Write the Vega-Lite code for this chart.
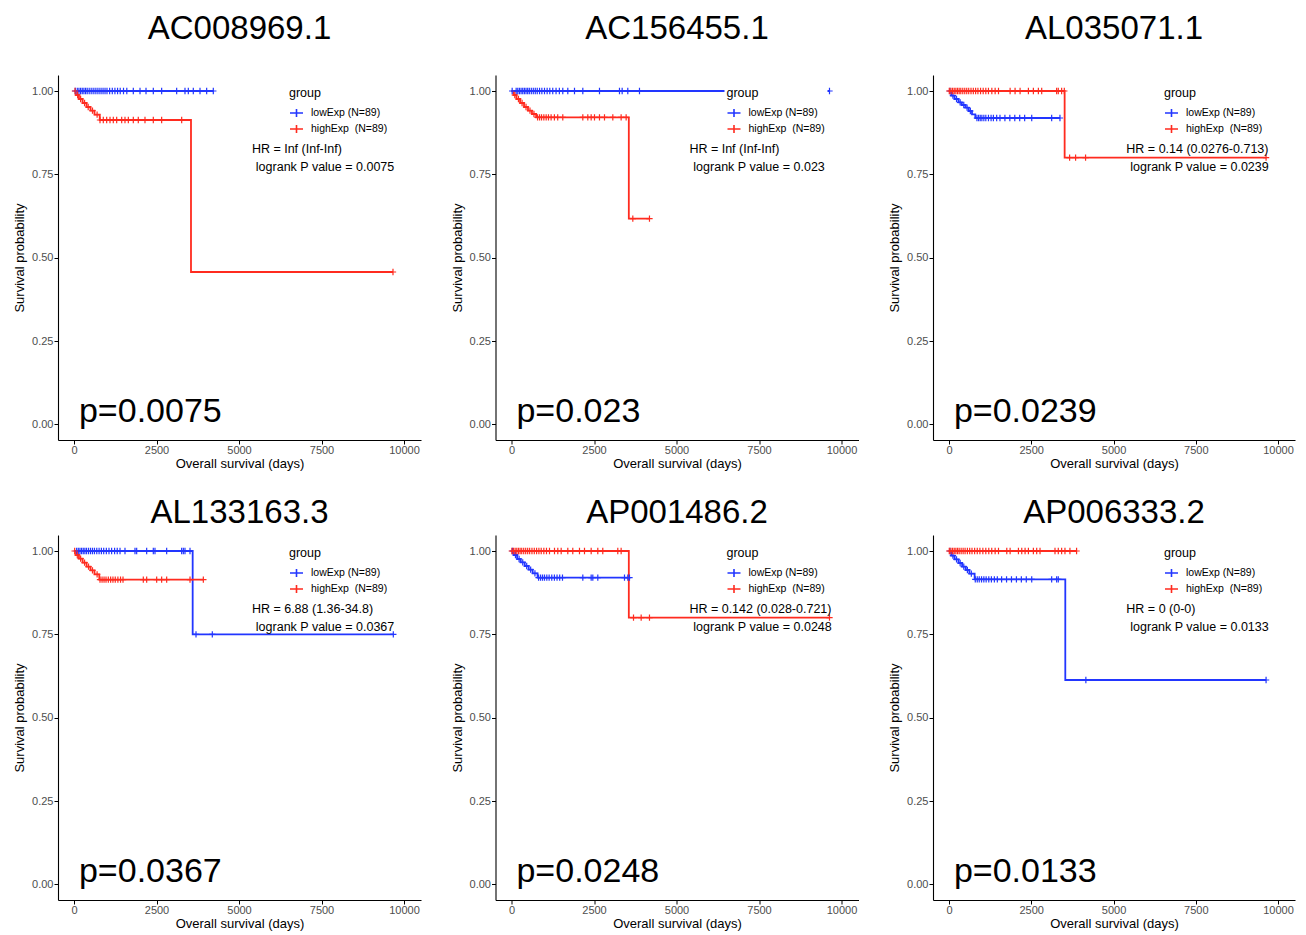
{
"$schema": "https://vega.github.io/schema/vega-lite/v6.json",
"padding": {"left": 13, "top": 13, "right": 5, "bottom": 2},
"background": "white",
"config": {
  "view": {"stroke": null},
  "title": {"fontSize": 33, "font": "Liberation Sans", "fontWeight": "normal", "color": "black", "anchor": "middle", "frame": "group", "baseline": "alphabetic"},
  "axis": {"grid": false, "domainColor": "black", "domainWidth": 1.1, "tickColor": "black", "tickSize": 4, "tickWidth": 1, "labelFont": "Liberation Sans", "labelFontSize": 11, "labelColor": "#4d4d4d", "titleFont": "Liberation Sans", "titleFontSize": 13, "titleFontWeight": "normal", "titleColor": "black", "labelPadding": 1},
  "axisX": {"titlePadding": 2, "labelPadding": 0},
  "axisY": {"titlePadding": 5},
  "text": {"font": "Liberation Sans", "color": "black"},
  "legend": {"padding": 2, "fillColor": "white", "titleFont": "Liberation Sans", "titleFontSize": 12.5, "titleFontWeight": "normal", "titleColor": "black", "labelFont": "Liberation Sans", "labelFontSize": 10.5, "labelColor": "black", "symbolType": "M-1,0H1M0,-0.6V0.6", "symbolSize": 169, "symbolStrokeWidth": 1.6, "rowPadding": 1, "titlePadding": 6, "labelOffset": 7, "labelLimit": 300}
},
"datasets": {
"notes": [
{"p":1,"hr":"HR = Inf (Inf-Inf)","lr":"logrank P value = 0.0075","pv":"p=0.0075"},
{"p":2,"hr":"HR = Inf (Inf-Inf)","lr":"logrank P value = 0.023","pv":"p=0.023"},
{"p":3,"hr":"HR = 0.14 (0.0276-0.713)","lr":"logrank P value = 0.0239","pv":"p=0.0239"},
{"p":4,"hr":"HR = 6.88 (1.36-34.8)","lr":"logrank P value = 0.0367","pv":"p=0.0367"},
{"p":5,"hr":"HR = 0.142 (0.028-0.721)","lr":"logrank P value = 0.0248","pv":"p=0.0248"},
{"p":6,"hr":"HR = 0 (0-0)","lr":"logrank P value = 0.0133","pv":"p=0.0133"}
],
"km": [
{"p":1,"g":"lowExp","k":"s","t":0,"s":1},{"p":1,"g":"lowExp","k":"s","t":4221,"s":1},
{"p":1,"g":"lowExp","k":"c","t":40,"s":1},{"p":1,"g":"lowExp","k":"c","t":100,"s":1},{"p":1,"g":"lowExp","k":"c","t":150,"s":1},{"p":1,"g":"lowExp","k":"c","t":200,"s":1},{"p":1,"g":"lowExp","k":"c","t":250,"s":1},{"p":1,"g":"lowExp","k":"c","t":300,"s":1},{"p":1,"g":"lowExp","k":"c","t":350,"s":1},{"p":1,"g":"lowExp","k":"c","t":400,"s":1},{"p":1,"g":"lowExp","k":"c","t":460,"s":1},{"p":1,"g":"lowExp","k":"c","t":520,"s":1},{"p":1,"g":"lowExp","k":"c","t":580,"s":1},{"p":1,"g":"lowExp","k":"c","t":640,"s":1},{"p":1,"g":"lowExp","k":"c","t":700,"s":1},{"p":1,"g":"lowExp","k":"c","t":760,"s":1},{"p":1,"g":"lowExp","k":"c","t":820,"s":1},{"p":1,"g":"lowExp","k":"c","t":880,"s":1},{"p":1,"g":"lowExp","k":"c","t":940,"s":1},{"p":1,"g":"lowExp","k":"c","t":1000,"s":1},{"p":1,"g":"lowExp","k":"c","t":1080,"s":1},{"p":1,"g":"lowExp","k":"c","t":1160,"s":1},{"p":1,"g":"lowExp","k":"c","t":1240,"s":1},{"p":1,"g":"lowExp","k":"c","t":1320,"s":1},{"p":1,"g":"lowExp","k":"c","t":1400,"s":1},{"p":1,"g":"lowExp","k":"c","t":1500,"s":1},{"p":1,"g":"lowExp","k":"c","t":1600,"s":1},{"p":1,"g":"lowExp","k":"c","t":1797,"s":1},{"p":1,"g":"lowExp","k":"c","t":2000,"s":1},{"p":1,"g":"lowExp","k":"c","t":2182,"s":1},{"p":1,"g":"lowExp","k":"c","t":2403,"s":1},{"p":1,"g":"lowExp","k":"c","t":2656,"s":1},{"p":1,"g":"lowExp","k":"c","t":3111,"s":1},{"p":1,"g":"lowExp","k":"c","t":3363,"s":1},{"p":1,"g":"lowExp","k":"c","t":3464,"s":1},{"p":1,"g":"lowExp","k":"c","t":3615,"s":1},{"p":1,"g":"lowExp","k":"c","t":3818,"s":1},{"p":1,"g":"lowExp","k":"c","t":4020,"s":1},{"p":1,"g":"lowExp","k":"c","t":4221,"s":1},
{"p":1,"g":"highExp","k":"s","t":0,"s":1},{"p":1,"g":"highExp","k":"s","t":60,"s":0.988},{"p":1,"g":"highExp","k":"s","t":150,"s":0.976},{"p":1,"g":"highExp","k":"s","t":260,"s":0.964},{"p":1,"g":"highExp","k":"s","t":380,"s":0.952},{"p":1,"g":"highExp","k":"s","t":500,"s":0.941},{"p":1,"g":"highExp","k":"s","t":620,"s":0.929},{"p":1,"g":"highExp","k":"s","t":780,"s":0.913},{"p":1,"g":"highExp","k":"s","t":3545,"s":0.457},{"p":1,"g":"highExp","k":"s","t":9666,"s":0.457},
{"p":1,"g":"highExp","k":"c","t":30,"s":1},{"p":1,"g":"highExp","k":"c","t":110,"s":0.988},{"p":1,"g":"highExp","k":"c","t":200,"s":0.976},{"p":1,"g":"highExp","k":"c","t":320,"s":0.964},{"p":1,"g":"highExp","k":"c","t":430,"s":0.952},{"p":1,"g":"highExp","k":"c","t":560,"s":0.941},{"p":1,"g":"highExp","k":"c","t":700,"s":0.929},{"p":1,"g":"highExp","k":"c","t":788,"s":0.913},{"p":1,"g":"highExp","k":"c","t":888,"s":0.913},{"p":1,"g":"highExp","k":"c","t":990,"s":0.913},{"p":1,"g":"highExp","k":"c","t":1091,"s":0.913},{"p":1,"g":"highExp","k":"c","t":1191,"s":0.913},{"p":1,"g":"highExp","k":"c","t":1293,"s":0.913},{"p":1,"g":"highExp","k":"c","t":1445,"s":0.913},{"p":1,"g":"highExp","k":"c","t":1545,"s":0.913},{"p":1,"g":"highExp","k":"c","t":1646,"s":0.913},{"p":1,"g":"highExp","k":"c","t":1797,"s":0.913},{"p":1,"g":"highExp","k":"c","t":1948,"s":0.913},{"p":1,"g":"highExp","k":"c","t":2151,"s":0.913},{"p":1,"g":"highExp","k":"c","t":2403,"s":0.913},{"p":1,"g":"highExp","k":"c","t":2656,"s":0.913},{"p":1,"g":"highExp","k":"c","t":3263,"s":0.913},{"p":1,"g":"highExp","k":"c","t":9666,"s":0.457},

{"p":2,"g":"lowExp","k":"s","t":0,"s":1},{"p":2,"g":"lowExp","k":"s","t":9636,"s":1},
{"p":2,"g":"lowExp","k":"c","t":20,"s":1},{"p":2,"g":"lowExp","k":"c","t":141,"s":1},{"p":2,"g":"lowExp","k":"c","t":190,"s":1},{"p":2,"g":"lowExp","k":"c","t":240,"s":1},{"p":2,"g":"lowExp","k":"c","t":290,"s":1},{"p":2,"g":"lowExp","k":"c","t":340,"s":1},{"p":2,"g":"lowExp","k":"c","t":390,"s":1},{"p":2,"g":"lowExp","k":"c","t":440,"s":1},{"p":2,"g":"lowExp","k":"c","t":490,"s":1},{"p":2,"g":"lowExp","k":"c","t":540,"s":1},{"p":2,"g":"lowExp","k":"c","t":600,"s":1},{"p":2,"g":"lowExp","k":"c","t":660,"s":1},{"p":2,"g":"lowExp","k":"c","t":720,"s":1},{"p":2,"g":"lowExp","k":"c","t":780,"s":1},{"p":2,"g":"lowExp","k":"c","t":850,"s":1},{"p":2,"g":"lowExp","k":"c","t":920,"s":1},{"p":2,"g":"lowExp","k":"c","t":1000,"s":1},{"p":2,"g":"lowExp","k":"c","t":1080,"s":1},{"p":2,"g":"lowExp","k":"c","t":1160,"s":1},{"p":2,"g":"lowExp","k":"c","t":1250,"s":1},{"p":2,"g":"lowExp","k":"c","t":1350,"s":1},{"p":2,"g":"lowExp","k":"c","t":1450,"s":1},{"p":2,"g":"lowExp","k":"c","t":1554,"s":1},{"p":2,"g":"lowExp","k":"c","t":1706,"s":1},{"p":2,"g":"lowExp","k":"c","t":1909,"s":1},{"p":2,"g":"lowExp","k":"c","t":2161,"s":1},{"p":2,"g":"lowExp","k":"c","t":2666,"s":1},{"p":2,"g":"lowExp","k":"c","t":3272,"s":1},{"p":2,"g":"lowExp","k":"c","t":3353,"s":1},{"p":2,"g":"lowExp","k":"c","t":3524,"s":1},{"p":2,"g":"lowExp","k":"c","t":3878,"s":1},{"p":2,"g":"lowExp","k":"c","t":9636,"s":1},
{"p":2,"g":"highExp","k":"s","t":0,"s":1},{"p":2,"g":"highExp","k":"s","t":60,"s":0.988},{"p":2,"g":"highExp","k":"s","t":150,"s":0.976},{"p":2,"g":"highExp","k":"s","t":260,"s":0.964},{"p":2,"g":"highExp","k":"s","t":380,"s":0.952},{"p":2,"g":"highExp","k":"s","t":500,"s":0.941},{"p":2,"g":"highExp","k":"s","t":620,"s":0.931},{"p":2,"g":"highExp","k":"s","t":747,"s":0.921},{"p":2,"g":"highExp","k":"s","t":3555,"s":0.617},{"p":2,"g":"highExp","k":"s","t":4181,"s":0.617},
{"p":2,"g":"highExp","k":"c","t":100,"s":0.988},{"p":2,"g":"highExp","k":"c","t":210,"s":0.976},{"p":2,"g":"highExp","k":"c","t":320,"s":0.964},{"p":2,"g":"highExp","k":"c","t":440,"s":0.952},{"p":2,"g":"highExp","k":"c","t":560,"s":0.941},{"p":2,"g":"highExp","k":"c","t":680,"s":0.931},{"p":2,"g":"highExp","k":"c","t":790,"s":0.921},{"p":2,"g":"highExp","k":"c","t":850,"s":0.921},{"p":2,"g":"highExp","k":"c","t":910,"s":0.921},{"p":2,"g":"highExp","k":"c","t":980,"s":0.921},{"p":2,"g":"highExp","k":"c","t":1050,"s":0.921},{"p":2,"g":"highExp","k":"c","t":1120,"s":0.921},{"p":2,"g":"highExp","k":"c","t":1200,"s":0.921},{"p":2,"g":"highExp","k":"c","t":1300,"s":0.921},{"p":2,"g":"highExp","k":"c","t":1400,"s":0.921},{"p":2,"g":"highExp","k":"c","t":1554,"s":0.921},{"p":2,"g":"highExp","k":"c","t":2161,"s":0.921},{"p":2,"g":"highExp","k":"c","t":2312,"s":0.921},{"p":2,"g":"highExp","k":"c","t":2414,"s":0.921},{"p":2,"g":"highExp","k":"c","t":2515,"s":0.921},{"p":2,"g":"highExp","k":"c","t":2666,"s":0.921},{"p":2,"g":"highExp","k":"c","t":2818,"s":0.921},{"p":2,"g":"highExp","k":"c","t":3070,"s":0.921},{"p":2,"g":"highExp","k":"c","t":3322,"s":0.921},{"p":2,"g":"highExp","k":"c","t":3474,"s":0.921},{"p":2,"g":"highExp","k":"c","t":3676,"s":0.617},{"p":2,"g":"highExp","k":"c","t":4181,"s":0.617},

{"p":3,"g":"lowExp","k":"s","t":0,"s":1},{"p":3,"g":"lowExp","k":"s","t":70,"s":0.986},{"p":3,"g":"lowExp","k":"s","t":170,"s":0.976},{"p":3,"g":"lowExp","k":"s","t":290,"s":0.966},{"p":3,"g":"lowExp","k":"s","t":390,"s":0.958},{"p":3,"g":"lowExp","k":"s","t":500,"s":0.95},{"p":3,"g":"lowExp","k":"s","t":600,"s":0.94},{"p":3,"g":"lowExp","k":"s","t":700,"s":0.93},{"p":3,"g":"lowExp","k":"s","t":800,"s":0.919},{"p":3,"g":"lowExp","k":"s","t":3373,"s":0.919},
{"p":3,"g":"lowExp","k":"c","t":30,"s":1},{"p":3,"g":"lowExp","k":"c","t":120,"s":0.986},{"p":3,"g":"lowExp","k":"c","t":230,"s":0.976},{"p":3,"g":"lowExp","k":"c","t":340,"s":0.966},{"p":3,"g":"lowExp","k":"c","t":450,"s":0.958},{"p":3,"g":"lowExp","k":"c","t":550,"s":0.95},{"p":3,"g":"lowExp","k":"c","t":650,"s":0.94},{"p":3,"g":"lowExp","k":"c","t":850,"s":0.919},{"p":3,"g":"lowExp","k":"c","t":900,"s":0.919},{"p":3,"g":"lowExp","k":"c","t":950,"s":0.919},{"p":3,"g":"lowExp","k":"c","t":1000,"s":0.919},{"p":3,"g":"lowExp","k":"c","t":1060,"s":0.919},{"p":3,"g":"lowExp","k":"c","t":1120,"s":0.919},{"p":3,"g":"lowExp","k":"c","t":1200,"s":0.919},{"p":3,"g":"lowExp","k":"c","t":1280,"s":0.919},{"p":3,"g":"lowExp","k":"c","t":1350,"s":0.919},{"p":3,"g":"lowExp","k":"c","t":1450,"s":0.919},{"p":3,"g":"lowExp","k":"c","t":1550,"s":0.919},{"p":3,"g":"lowExp","k":"c","t":1700,"s":0.919},{"p":3,"g":"lowExp","k":"c","t":1850,"s":0.919},{"p":3,"g":"lowExp","k":"c","t":2000,"s":0.919},{"p":3,"g":"lowExp","k":"c","t":2150,"s":0.919},{"p":3,"g":"lowExp","k":"c","t":2300,"s":0.919},{"p":3,"g":"lowExp","k":"c","t":2515,"s":0.919},{"p":3,"g":"lowExp","k":"c","t":3121,"s":0.919},{"p":3,"g":"lowExp","k":"c","t":3373,"s":0.919},
{"p":3,"g":"highExp","k":"s","t":0,"s":1},{"p":3,"g":"highExp","k":"s","t":3515,"s":0.8},{"p":3,"g":"highExp","k":"s","t":9636,"s":0.8},
{"p":3,"g":"highExp","k":"c","t":10,"s":1},{"p":3,"g":"highExp","k":"c","t":60,"s":1},{"p":3,"g":"highExp","k":"c","t":110,"s":1},{"p":3,"g":"highExp","k":"c","t":160,"s":1},{"p":3,"g":"highExp","k":"c","t":210,"s":1},{"p":3,"g":"highExp","k":"c","t":260,"s":1},{"p":3,"g":"highExp","k":"c","t":310,"s":1},{"p":3,"g":"highExp","k":"c","t":360,"s":1},{"p":3,"g":"highExp","k":"c","t":420,"s":1},{"p":3,"g":"highExp","k":"c","t":480,"s":1},{"p":3,"g":"highExp","k":"c","t":540,"s":1},{"p":3,"g":"highExp","k":"c","t":600,"s":1},{"p":3,"g":"highExp","k":"c","t":670,"s":1},{"p":3,"g":"highExp","k":"c","t":740,"s":1},{"p":3,"g":"highExp","k":"c","t":810,"s":1},{"p":3,"g":"highExp","k":"c","t":880,"s":1},{"p":3,"g":"highExp","k":"c","t":960,"s":1},{"p":3,"g":"highExp","k":"c","t":1040,"s":1},{"p":3,"g":"highExp","k":"c","t":1120,"s":1},{"p":3,"g":"highExp","k":"c","t":1200,"s":1},{"p":3,"g":"highExp","k":"c","t":1303,"s":1},{"p":3,"g":"highExp","k":"c","t":1403,"s":1},{"p":3,"g":"highExp","k":"c","t":1505,"s":1},{"p":3,"g":"highExp","k":"c","t":1858,"s":1},{"p":3,"g":"highExp","k":"c","t":2009,"s":1},{"p":3,"g":"highExp","k":"c","t":2161,"s":1},{"p":3,"g":"highExp","k":"c","t":2414,"s":1},{"p":3,"g":"highExp","k":"c","t":2565,"s":1},{"p":3,"g":"highExp","k":"c","t":2717,"s":1},{"p":3,"g":"highExp","k":"c","t":2818,"s":1},{"p":3,"g":"highExp","k":"c","t":3272,"s":1},{"p":3,"g":"highExp","k":"c","t":3322,"s":1},{"p":3,"g":"highExp","k":"c","t":3424,"s":1},{"p":3,"g":"highExp","k":"c","t":3505,"s":1},{"p":3,"g":"highExp","k":"c","t":3666,"s":0.8},{"p":3,"g":"highExp","k":"c","t":3848,"s":0.8},{"p":3,"g":"highExp","k":"c","t":4151,"s":0.8},{"p":3,"g":"highExp","k":"c","t":9636,"s":0.8},

{"p":4,"g":"lowExp","k":"s","t":0,"s":1},{"p":4,"g":"lowExp","k":"s","t":3596,"s":0.75},{"p":4,"g":"lowExp","k":"s","t":9676,"s":0.75},
{"p":4,"g":"lowExp","k":"c","t":80,"s":1},{"p":4,"g":"lowExp","k":"c","t":130,"s":1},{"p":4,"g":"lowExp","k":"c","t":180,"s":1},{"p":4,"g":"lowExp","k":"c","t":230,"s":1},{"p":4,"g":"lowExp","k":"c","t":280,"s":1},{"p":4,"g":"lowExp","k":"c","t":330,"s":1},{"p":4,"g":"lowExp","k":"c","t":380,"s":1},{"p":4,"g":"lowExp","k":"c","t":440,"s":1},{"p":4,"g":"lowExp","k":"c","t":500,"s":1},{"p":4,"g":"lowExp","k":"c","t":560,"s":1},{"p":4,"g":"lowExp","k":"c","t":620,"s":1},{"p":4,"g":"lowExp","k":"c","t":690,"s":1},{"p":4,"g":"lowExp","k":"c","t":760,"s":1},{"p":4,"g":"lowExp","k":"c","t":830,"s":1},{"p":4,"g":"lowExp","k":"c","t":900,"s":1},{"p":4,"g":"lowExp","k":"c","t":980,"s":1},{"p":4,"g":"lowExp","k":"c","t":1060,"s":1},{"p":4,"g":"lowExp","k":"c","t":1140,"s":1},{"p":4,"g":"lowExp","k":"c","t":1230,"s":1},{"p":4,"g":"lowExp","k":"c","t":1310,"s":1},{"p":4,"g":"lowExp","k":"c","t":1394,"s":1},{"p":4,"g":"lowExp","k":"c","t":1545,"s":1},{"p":4,"g":"lowExp","k":"c","t":1848,"s":1},{"p":4,"g":"lowExp","k":"c","t":1899,"s":1},{"p":4,"g":"lowExp","k":"c","t":2202,"s":1},{"p":4,"g":"lowExp","k":"c","t":2403,"s":1},{"p":4,"g":"lowExp","k":"c","t":2454,"s":1},{"p":4,"g":"lowExp","k":"c","t":2808,"s":1},{"p":4,"g":"lowExp","k":"c","t":3262,"s":1},{"p":4,"g":"lowExp","k":"c","t":3313,"s":1},{"p":4,"g":"lowExp","k":"c","t":3363,"s":1},{"p":4,"g":"lowExp","k":"c","t":3515,"s":1},{"p":4,"g":"lowExp","k":"c","t":3697,"s":0.75},{"p":4,"g":"lowExp","k":"c","t":4191,"s":0.75},{"p":4,"g":"lowExp","k":"c","t":9676,"s":0.75},
{"p":4,"g":"highExp","k":"s","t":0,"s":1},{"p":4,"g":"highExp","k":"s","t":60,"s":0.988},{"p":4,"g":"highExp","k":"s","t":150,"s":0.977},{"p":4,"g":"highExp","k":"s","t":260,"s":0.965},{"p":4,"g":"highExp","k":"s","t":380,"s":0.953},{"p":4,"g":"highExp","k":"s","t":500,"s":0.942},{"p":4,"g":"highExp","k":"s","t":620,"s":0.93},{"p":4,"g":"highExp","k":"s","t":767,"s":0.914},{"p":4,"g":"highExp","k":"s","t":3919,"s":0.914},
{"p":4,"g":"highExp","k":"c","t":20,"s":1},{"p":4,"g":"highExp","k":"c","t":100,"s":0.988},{"p":4,"g":"highExp","k":"c","t":200,"s":0.977},{"p":4,"g":"highExp","k":"c","t":320,"s":0.965},{"p":4,"g":"highExp","k":"c","t":440,"s":0.953},{"p":4,"g":"highExp","k":"c","t":560,"s":0.942},{"p":4,"g":"highExp","k":"c","t":700,"s":0.93},{"p":4,"g":"highExp","k":"c","t":788,"s":0.914},{"p":4,"g":"highExp","k":"c","t":850,"s":0.914},{"p":4,"g":"highExp","k":"c","t":910,"s":0.914},{"p":4,"g":"highExp","k":"c","t":970,"s":0.914},{"p":4,"g":"highExp","k":"c","t":1040,"s":0.914},{"p":4,"g":"highExp","k":"c","t":1110,"s":0.914},{"p":4,"g":"highExp","k":"c","t":1180,"s":0.914},{"p":4,"g":"highExp","k":"c","t":1250,"s":0.914},{"p":4,"g":"highExp","k":"c","t":1330,"s":0.914},{"p":4,"g":"highExp","k":"c","t":1410,"s":0.914},{"p":4,"g":"highExp","k":"c","t":1485,"s":0.914},{"p":4,"g":"highExp","k":"c","t":2100,"s":0.914},{"p":4,"g":"highExp","k":"c","t":2202,"s":0.914},{"p":4,"g":"highExp","k":"c","t":2505,"s":0.914},{"p":4,"g":"highExp","k":"c","t":2656,"s":0.914},{"p":4,"g":"highExp","k":"c","t":2808,"s":0.914},{"p":4,"g":"highExp","k":"c","t":3515,"s":0.914},{"p":4,"g":"highExp","k":"c","t":3919,"s":0.914},

{"p":5,"g":"lowExp","k":"s","t":0,"s":1},{"p":5,"g":"lowExp","k":"s","t":70,"s":0.988},{"p":5,"g":"lowExp","k":"s","t":170,"s":0.976},{"p":5,"g":"lowExp","k":"s","t":280,"s":0.966},{"p":5,"g":"lowExp","k":"s","t":400,"s":0.955},{"p":5,"g":"lowExp","k":"s","t":520,"s":0.944},{"p":5,"g":"lowExp","k":"s","t":640,"s":0.933},{"p":5,"g":"lowExp","k":"s","t":790,"s":0.92},{"p":5,"g":"lowExp","k":"s","t":3575,"s":0.92},
{"p":5,"g":"lowExp","k":"c","t":30,"s":1},{"p":5,"g":"lowExp","k":"c","t":120,"s":0.988},{"p":5,"g":"lowExp","k":"c","t":230,"s":0.976},{"p":5,"g":"lowExp","k":"c","t":340,"s":0.966},{"p":5,"g":"lowExp","k":"c","t":460,"s":0.955},{"p":5,"g":"lowExp","k":"c","t":580,"s":0.944},{"p":5,"g":"lowExp","k":"c","t":710,"s":0.933},{"p":5,"g":"lowExp","k":"c","t":820,"s":0.92},{"p":5,"g":"lowExp","k":"c","t":880,"s":0.92},{"p":5,"g":"lowExp","k":"c","t":940,"s":0.92},{"p":5,"g":"lowExp","k":"c","t":1000,"s":0.92},{"p":5,"g":"lowExp","k":"c","t":1070,"s":0.92},{"p":5,"g":"lowExp","k":"c","t":1140,"s":0.92},{"p":5,"g":"lowExp","k":"c","t":1220,"s":0.92},{"p":5,"g":"lowExp","k":"c","t":1300,"s":0.92},{"p":5,"g":"lowExp","k":"c","t":1380,"s":0.92},{"p":5,"g":"lowExp","k":"c","t":1460,"s":0.92},{"p":5,"g":"lowExp","k":"c","t":1545,"s":0.92},{"p":5,"g":"lowExp","k":"c","t":2161,"s":0.92},{"p":5,"g":"lowExp","k":"c","t":2414,"s":0.92},{"p":5,"g":"lowExp","k":"c","t":2464,"s":0.92},{"p":5,"g":"lowExp","k":"c","t":2615,"s":0.92},{"p":5,"g":"lowExp","k":"c","t":3424,"s":0.92},{"p":5,"g":"lowExp","k":"c","t":3524,"s":0.92},{"p":5,"g":"lowExp","k":"c","t":3575,"s":0.92},
{"p":5,"g":"highExp","k":"s","t":0,"s":1},{"p":5,"g":"highExp","k":"s","t":3555,"s":0.8},{"p":5,"g":"highExp","k":"s","t":9636,"s":0.8},
{"p":5,"g":"highExp","k":"c","t":10,"s":1},{"p":5,"g":"highExp","k":"c","t":60,"s":1},{"p":5,"g":"highExp","k":"c","t":110,"s":1},{"p":5,"g":"highExp","k":"c","t":160,"s":1},{"p":5,"g":"highExp","k":"c","t":210,"s":1},{"p":5,"g":"highExp","k":"c","t":260,"s":1},{"p":5,"g":"highExp","k":"c","t":310,"s":1},{"p":5,"g":"highExp","k":"c","t":370,"s":1},{"p":5,"g":"highExp","k":"c","t":430,"s":1},{"p":5,"g":"highExp","k":"c","t":490,"s":1},{"p":5,"g":"highExp","k":"c","t":550,"s":1},{"p":5,"g":"highExp","k":"c","t":620,"s":1},{"p":5,"g":"highExp","k":"c","t":690,"s":1},{"p":5,"g":"highExp","k":"c","t":760,"s":1},{"p":5,"g":"highExp","k":"c","t":830,"s":1},{"p":5,"g":"highExp","k":"c","t":900,"s":1},{"p":5,"g":"highExp","k":"c","t":980,"s":1},{"p":5,"g":"highExp","k":"c","t":1060,"s":1},{"p":5,"g":"highExp","k":"c","t":1151,"s":1},{"p":5,"g":"highExp","k":"c","t":1303,"s":1},{"p":5,"g":"highExp","k":"c","t":1403,"s":1},{"p":5,"g":"highExp","k":"c","t":1505,"s":1},{"p":5,"g":"highExp","k":"c","t":1706,"s":1},{"p":5,"g":"highExp","k":"c","t":1857,"s":1},{"p":5,"g":"highExp","k":"c","t":2060,"s":1},{"p":5,"g":"highExp","k":"c","t":2212,"s":1},{"p":5,"g":"highExp","k":"c","t":2414,"s":1},{"p":5,"g":"highExp","k":"c","t":2615,"s":1},{"p":5,"g":"highExp","k":"c","t":2766,"s":1},{"p":5,"g":"highExp","k":"c","t":3221,"s":1},{"p":5,"g":"highExp","k":"c","t":3322,"s":1},{"p":5,"g":"highExp","k":"c","t":3697,"s":0.8},{"p":5,"g":"highExp","k":"c","t":3929,"s":0.8},{"p":5,"g":"highExp","k":"c","t":4181,"s":0.8},{"p":5,"g":"highExp","k":"c","t":9636,"s":0.8},

{"p":6,"g":"lowExp","k":"s","t":0,"s":1},{"p":6,"g":"lowExp","k":"s","t":70,"s":0.986},{"p":6,"g":"lowExp","k":"s","t":170,"s":0.975},{"p":6,"g":"lowExp","k":"s","t":290,"s":0.964},{"p":6,"g":"lowExp","k":"s","t":400,"s":0.953},{"p":6,"g":"lowExp","k":"s","t":510,"s":0.943},{"p":6,"g":"lowExp","k":"s","t":620,"s":0.932},{"p":6,"g":"lowExp","k":"s","t":780,"s":0.915},{"p":6,"g":"lowExp","k":"s","t":3535,"s":0.613},{"p":6,"g":"lowExp","k":"s","t":9636,"s":0.613},
{"p":6,"g":"lowExp","k":"c","t":30,"s":1},{"p":6,"g":"lowExp","k":"c","t":120,"s":0.986},{"p":6,"g":"lowExp","k":"c","t":230,"s":0.975},{"p":6,"g":"lowExp","k":"c","t":340,"s":0.964},{"p":6,"g":"lowExp","k":"c","t":450,"s":0.953},{"p":6,"g":"lowExp","k":"c","t":560,"s":0.943},{"p":6,"g":"lowExp","k":"c","t":680,"s":0.932},{"p":6,"g":"lowExp","k":"c","t":800,"s":0.915},{"p":6,"g":"lowExp","k":"c","t":860,"s":0.915},{"p":6,"g":"lowExp","k":"c","t":920,"s":0.915},{"p":6,"g":"lowExp","k":"c","t":990,"s":0.915},{"p":6,"g":"lowExp","k":"c","t":1060,"s":0.915},{"p":6,"g":"lowExp","k":"c","t":1130,"s":0.915},{"p":6,"g":"lowExp","k":"c","t":1210,"s":0.915},{"p":6,"g":"lowExp","k":"c","t":1290,"s":0.915},{"p":6,"g":"lowExp","k":"c","t":1380,"s":0.915},{"p":6,"g":"lowExp","k":"c","t":1470,"s":0.915},{"p":6,"g":"lowExp","k":"c","t":1600,"s":0.915},{"p":6,"g":"lowExp","k":"c","t":1750,"s":0.915},{"p":6,"g":"lowExp","k":"c","t":1900,"s":0.915},{"p":6,"g":"lowExp","k":"c","t":2050,"s":0.915},{"p":6,"g":"lowExp","k":"c","t":2200,"s":0.915},{"p":6,"g":"lowExp","k":"c","t":2350,"s":0.915},{"p":6,"g":"lowExp","k":"c","t":2515,"s":0.915},{"p":6,"g":"lowExp","k":"c","t":3121,"s":0.915},{"p":6,"g":"lowExp","k":"c","t":3272,"s":0.915},{"p":6,"g":"lowExp","k":"c","t":3322,"s":0.915},{"p":6,"g":"lowExp","k":"c","t":4160,"s":0.613},{"p":6,"g":"lowExp","k":"c","t":9636,"s":0.613},
{"p":6,"g":"highExp","k":"s","t":0,"s":1},{"p":6,"g":"highExp","k":"s","t":3878,"s":1},
{"p":6,"g":"highExp","k":"c","t":10,"s":1},{"p":6,"g":"highExp","k":"c","t":60,"s":1},{"p":6,"g":"highExp","k":"c","t":110,"s":1},{"p":6,"g":"highExp","k":"c","t":160,"s":1},{"p":6,"g":"highExp","k":"c","t":210,"s":1},{"p":6,"g":"highExp","k":"c","t":260,"s":1},{"p":6,"g":"highExp","k":"c","t":310,"s":1},{"p":6,"g":"highExp","k":"c","t":370,"s":1},{"p":6,"g":"highExp","k":"c","t":430,"s":1},{"p":6,"g":"highExp","k":"c","t":490,"s":1},{"p":6,"g":"highExp","k":"c","t":560,"s":1},{"p":6,"g":"highExp","k":"c","t":630,"s":1},{"p":6,"g":"highExp","k":"c","t":700,"s":1},{"p":6,"g":"highExp","k":"c","t":780,"s":1},{"p":6,"g":"highExp","k":"c","t":860,"s":1},{"p":6,"g":"highExp","k":"c","t":940,"s":1},{"p":6,"g":"highExp","k":"c","t":1030,"s":1},{"p":6,"g":"highExp","k":"c","t":1120,"s":1},{"p":6,"g":"highExp","k":"c","t":1210,"s":1},{"p":6,"g":"highExp","k":"c","t":1300,"s":1},{"p":6,"g":"highExp","k":"c","t":1403,"s":1},{"p":6,"g":"highExp","k":"c","t":1505,"s":1},{"p":6,"g":"highExp","k":"c","t":1757,"s":1},{"p":6,"g":"highExp","k":"c","t":1858,"s":1},{"p":6,"g":"highExp","k":"c","t":2111,"s":1},{"p":6,"g":"highExp","k":"c","t":2212,"s":1},{"p":6,"g":"highExp","k":"c","t":2313,"s":1},{"p":6,"g":"highExp","k":"c","t":2414,"s":1},{"p":6,"g":"highExp","k":"c","t":2565,"s":1},{"p":6,"g":"highExp","k":"c","t":2666,"s":1},{"p":6,"g":"highExp","k":"c","t":2767,"s":1},{"p":6,"g":"highExp","k":"c","t":3222,"s":1},{"p":6,"g":"highExp","k":"c","t":3322,"s":1},{"p":6,"g":"highExp","k":"c","t":3424,"s":1},{"p":6,"g":"highExp","k":"c","t":3525,"s":1},{"p":6,"g":"highExp","k":"c","t":3676,"s":1},{"p":6,"g":"highExp","k":"c","t":3878,"s":1}
]},
"columns": 3,
"spacing": {"row": 27, "column": 29.5},
"resolve": {"scale": {"color": "independent", "x": "independent", "y": "independent"}, "legend": {"color": "independent"}},
"concat": [
{"title": {"text": "AC008969.1", "offset": 29}, "width": 363, "height": 365,
 "layer": [
  {"data": {"name": "km"}, "transform": [{"filter": "datum.p === 1 && datum.k === 's'"}], "mark": {"type": "line", "interpolate": "step-after", "strokeWidth": 1.8},
   "encoding": {
    "x": {"field": "t", "type": "quantitative", "scale": {"domain": [-485, 10515], "nice": false, "zero": false}, "axis": {"values": [0, 2500, 5000, 7500, 10000], "format": "d", "title": "Overall survival (days)"}},
    "y": {"field": "s", "type": "quantitative", "scale": {"domain": [-0.047, 1.048], "nice": false, "zero": false}, "axis": {"values": [0, 0.25, 0.5, 0.75, 1], "format": ".2f", "title": "Survival probability"}},
    "color": {"field": "g", "type": "nominal", "scale": {"domain": ["lowExp", "highExp"], "range": ["#2236FF", "#FF2B1F"]}, "legend": {"title": "group", "orient": "none", "legendX": 229, "legendY": 10, "labelExpr": "datum.label === 'lowExp' ? 'lowExp (N=89)' : 'highExp\u00a0 (N=89)'"}}}},
  {"data": {"name": "km"}, "transform": [{"filter": "datum.p === 1 && datum.k === 'c'"}], "mark": {"type": "point", "shape": "M-1,0H1M0,-1V1", "filled": false, "size": 40, "strokeWidth": 1.2, "opacity": 1},
   "encoding": {"x": {"field": "t", "type": "quantitative"}, "y": {"field": "s", "type": "quantitative"}, "color": {"field": "g", "type": "nominal"}}},
  {"data": {"name": "notes"}, "transform": [{"filter": "datum.p === 1"}], "mark": {"type": "text", "align": "left", "baseline": "middle", "fontSize": 12.5},
   "encoding": {"x": {"datum": 5390, "type": "quantitative"}, "y": {"datum": 0.827, "type": "quantitative"}, "text": {"field": "hr", "type": "nominal"}}},
  {"data": {"name": "notes"}, "transform": [{"filter": "datum.p === 1"}], "mark": {"type": "text", "align": "left", "baseline": "middle", "fontSize": 12.5},
   "encoding": {"x": {"datum": 5510, "type": "quantitative"}, "y": {"datum": 0.773, "type": "quantitative"}, "text": {"field": "lr", "type": "nominal"}}},
  {"data": {"name": "notes"}, "transform": [{"filter": "datum.p === 1"}], "mark": {"type": "text", "align": "left", "baseline": "alphabetic", "fontSize": 34},
   "encoding": {"x": {"datum": 150, "type": "quantitative"}, "y": {"datum": 0.006, "type": "quantitative"}, "text": {"field": "pv", "type": "nominal"}}}
 ]},
{"title": {"text": "AC156455.1", "offset": 29}, "width": 363, "height": 365,
 "layer": [
  {"data": {"name": "km"}, "transform": [{"filter": "datum.p === 2 && datum.k === 's'"}], "mark": {"type": "line", "interpolate": "step-after", "strokeWidth": 1.8},
   "encoding": {
    "x": {"field": "t", "type": "quantitative", "scale": {"domain": [-485, 10515], "nice": false, "zero": false}, "axis": {"values": [0, 2500, 5000, 7500, 10000], "format": "d", "title": "Overall survival (days)"}},
    "y": {"field": "s", "type": "quantitative", "scale": {"domain": [-0.047, 1.048], "nice": false, "zero": false}, "axis": {"values": [0, 0.25, 0.5, 0.75, 1], "format": ".2f", "title": "Survival probability"}},
    "color": {"field": "g", "type": "nominal", "scale": {"domain": ["lowExp", "highExp"], "range": ["#2236FF", "#FF2B1F"]}, "legend": {"title": "group", "orient": "none", "legendX": 229, "legendY": 10, "labelExpr": "datum.label === 'lowExp' ? 'lowExp (N=89)' : 'highExp\u00a0 (N=89)'"}}}},
  {"data": {"name": "km"}, "transform": [{"filter": "datum.p === 2 && datum.k === 'c'"}], "mark": {"type": "point", "shape": "M-1,0H1M0,-1V1", "filled": false, "size": 40, "strokeWidth": 1.2, "opacity": 1},
   "encoding": {"x": {"field": "t", "type": "quantitative"}, "y": {"field": "s", "type": "quantitative"}, "color": {"field": "g", "type": "nominal"}}},
  {"data": {"name": "notes"}, "transform": [{"filter": "datum.p === 2"}], "mark": {"type": "text", "align": "left", "baseline": "middle", "fontSize": 12.5},
   "encoding": {"x": {"datum": 5390, "type": "quantitative"}, "y": {"datum": 0.827, "type": "quantitative"}, "text": {"field": "hr", "type": "nominal"}}},
  {"data": {"name": "notes"}, "transform": [{"filter": "datum.p === 2"}], "mark": {"type": "text", "align": "left", "baseline": "middle", "fontSize": 12.5},
   "encoding": {"x": {"datum": 5510, "type": "quantitative"}, "y": {"datum": 0.773, "type": "quantitative"}, "text": {"field": "lr", "type": "nominal"}}},
  {"data": {"name": "notes"}, "transform": [{"filter": "datum.p === 2"}], "mark": {"type": "text", "align": "left", "baseline": "alphabetic", "fontSize": 34},
   "encoding": {"x": {"datum": 150, "type": "quantitative"}, "y": {"datum": 0.006, "type": "quantitative"}, "text": {"field": "pv", "type": "nominal"}}}
 ]},
{"title": {"text": "AL035071.1", "offset": 29}, "width": 362, "height": 365,
 "layer": [
  {"data": {"name": "km"}, "transform": [{"filter": "datum.p === 3 && datum.k === 's'"}], "mark": {"type": "line", "interpolate": "step-after", "strokeWidth": 1.8},
   "encoding": {
    "x": {"field": "t", "type": "quantitative", "scale": {"domain": [-485, 10515], "nice": false, "zero": false}, "axis": {"values": [0, 2500, 5000, 7500, 10000], "format": "d", "title": "Overall survival (days)"}},
    "y": {"field": "s", "type": "quantitative", "scale": {"domain": [-0.047, 1.048], "nice": false, "zero": false}, "axis": {"values": [0, 0.25, 0.5, 0.75, 1], "format": ".2f", "title": "Survival probability"}},
    "color": {"field": "g", "type": "nominal", "scale": {"domain": ["lowExp", "highExp"], "range": ["#2236FF", "#FF2B1F"]}, "legend": {"title": "group", "orient": "none", "legendX": 229, "legendY": 10, "labelExpr": "datum.label === 'lowExp' ? 'lowExp (N=89)' : 'highExp\u00a0 (N=89)'"}}}},
  {"data": {"name": "km"}, "transform": [{"filter": "datum.p === 3 && datum.k === 'c'"}], "mark": {"type": "point", "shape": "M-1,0H1M0,-1V1", "filled": false, "size": 40, "strokeWidth": 1.2, "opacity": 1},
   "encoding": {"x": {"field": "t", "type": "quantitative"}, "y": {"field": "s", "type": "quantitative"}, "color": {"field": "g", "type": "nominal"}}},
  {"data": {"name": "notes"}, "transform": [{"filter": "datum.p === 3"}], "mark": {"type": "text", "align": "left", "baseline": "middle", "fontSize": 12.5},
   "encoding": {"x": {"datum": 5390, "type": "quantitative"}, "y": {"datum": 0.827, "type": "quantitative"}, "text": {"field": "hr", "type": "nominal"}}},
  {"data": {"name": "notes"}, "transform": [{"filter": "datum.p === 3"}], "mark": {"type": "text", "align": "left", "baseline": "middle", "fontSize": 12.5},
   "encoding": {"x": {"datum": 5510, "type": "quantitative"}, "y": {"datum": 0.773, "type": "quantitative"}, "text": {"field": "lr", "type": "nominal"}}},
  {"data": {"name": "notes"}, "transform": [{"filter": "datum.p === 3"}], "mark": {"type": "text", "align": "left", "baseline": "alphabetic", "fontSize": 34},
   "encoding": {"x": {"datum": 150, "type": "quantitative"}, "y": {"datum": 0.006, "type": "quantitative"}, "text": {"field": "pv", "type": "nominal"}}}
 ]},
{"title": {"text": "AL133163.3", "offset": 5}, "width": 363, "height": 365,
 "layer": [
  {"data": {"name": "km"}, "transform": [{"filter": "datum.p === 4 && datum.k === 's'"}], "mark": {"type": "line", "interpolate": "step-after", "strokeWidth": 1.8},
   "encoding": {
    "x": {"field": "t", "type": "quantitative", "scale": {"domain": [-485, 10515], "nice": false, "zero": false}, "axis": {"values": [0, 2500, 5000, 7500, 10000], "format": "d", "title": "Overall survival (days)"}},
    "y": {"field": "s", "type": "quantitative", "scale": {"domain": [-0.047, 1.048], "nice": false, "zero": false}, "axis": {"values": [0, 0.25, 0.5, 0.75, 1], "format": ".2f", "title": "Survival probability"}},
    "color": {"field": "g", "type": "nominal", "scale": {"domain": ["lowExp", "highExp"], "range": ["#2236FF", "#FF2B1F"]}, "legend": {"title": "group", "orient": "none", "legendX": 229, "legendY": 10, "labelExpr": "datum.label === 'lowExp' ? 'lowExp (N=89)' : 'highExp\u00a0 (N=89)'"}}}},
  {"data": {"name": "km"}, "transform": [{"filter": "datum.p === 4 && datum.k === 'c'"}], "mark": {"type": "point", "shape": "M-1,0H1M0,-1V1", "filled": false, "size": 40, "strokeWidth": 1.2, "opacity": 1},
   "encoding": {"x": {"field": "t", "type": "quantitative"}, "y": {"field": "s", "type": "quantitative"}, "color": {"field": "g", "type": "nominal"}}},
  {"data": {"name": "notes"}, "transform": [{"filter": "datum.p === 4"}], "mark": {"type": "text", "align": "left", "baseline": "middle", "fontSize": 12.5},
   "encoding": {"x": {"datum": 5390, "type": "quantitative"}, "y": {"datum": 0.827, "type": "quantitative"}, "text": {"field": "hr", "type": "nominal"}}},
  {"data": {"name": "notes"}, "transform": [{"filter": "datum.p === 4"}], "mark": {"type": "text", "align": "left", "baseline": "middle", "fontSize": 12.5},
   "encoding": {"x": {"datum": 5510, "type": "quantitative"}, "y": {"datum": 0.773, "type": "quantitative"}, "text": {"field": "lr", "type": "nominal"}}},
  {"data": {"name": "notes"}, "transform": [{"filter": "datum.p === 4"}], "mark": {"type": "text", "align": "left", "baseline": "alphabetic", "fontSize": 34},
   "encoding": {"x": {"datum": 150, "type": "quantitative"}, "y": {"datum": 0.006, "type": "quantitative"}, "text": {"field": "pv", "type": "nominal"}}}
 ]},
{"title": {"text": "AP001486.2", "offset": 5}, "width": 363, "height": 365,
 "layer": [
  {"data": {"name": "km"}, "transform": [{"filter": "datum.p === 5 && datum.k === 's'"}], "mark": {"type": "line", "interpolate": "step-after", "strokeWidth": 1.8},
   "encoding": {
    "x": {"field": "t", "type": "quantitative", "scale": {"domain": [-485, 10515], "nice": false, "zero": false}, "axis": {"values": [0, 2500, 5000, 7500, 10000], "format": "d", "title": "Overall survival (days)"}},
    "y": {"field": "s", "type": "quantitative", "scale": {"domain": [-0.047, 1.048], "nice": false, "zero": false}, "axis": {"values": [0, 0.25, 0.5, 0.75, 1], "format": ".2f", "title": "Survival probability"}},
    "color": {"field": "g", "type": "nominal", "scale": {"domain": ["lowExp", "highExp"], "range": ["#2236FF", "#FF2B1F"]}, "legend": {"title": "group", "orient": "none", "legendX": 229, "legendY": 10, "labelExpr": "datum.label === 'lowExp' ? 'lowExp (N=89)' : 'highExp\u00a0 (N=89)'"}}}},
  {"data": {"name": "km"}, "transform": [{"filter": "datum.p === 5 && datum.k === 'c'"}], "mark": {"type": "point", "shape": "M-1,0H1M0,-1V1", "filled": false, "size": 40, "strokeWidth": 1.2, "opacity": 1},
   "encoding": {"x": {"field": "t", "type": "quantitative"}, "y": {"field": "s", "type": "quantitative"}, "color": {"field": "g", "type": "nominal"}}},
  {"data": {"name": "notes"}, "transform": [{"filter": "datum.p === 5"}], "mark": {"type": "text", "align": "left", "baseline": "middle", "fontSize": 12.5},
   "encoding": {"x": {"datum": 5390, "type": "quantitative"}, "y": {"datum": 0.827, "type": "quantitative"}, "text": {"field": "hr", "type": "nominal"}}},
  {"data": {"name": "notes"}, "transform": [{"filter": "datum.p === 5"}], "mark": {"type": "text", "align": "left", "baseline": "middle", "fontSize": 12.5},
   "encoding": {"x": {"datum": 5510, "type": "quantitative"}, "y": {"datum": 0.773, "type": "quantitative"}, "text": {"field": "lr", "type": "nominal"}}},
  {"data": {"name": "notes"}, "transform": [{"filter": "datum.p === 5"}], "mark": {"type": "text", "align": "left", "baseline": "alphabetic", "fontSize": 34},
   "encoding": {"x": {"datum": 150, "type": "quantitative"}, "y": {"datum": 0.006, "type": "quantitative"}, "text": {"field": "pv", "type": "nominal"}}}
 ]},
{"title": {"text": "AP006333.2", "offset": 5}, "width": 362, "height": 365,
 "layer": [
  {"data": {"name": "km"}, "transform": [{"filter": "datum.p === 6 && datum.k === 's'"}], "mark": {"type": "line", "interpolate": "step-after", "strokeWidth": 1.8},
   "encoding": {
    "x": {"field": "t", "type": "quantitative", "scale": {"domain": [-485, 10515], "nice": false, "zero": false}, "axis": {"values": [0, 2500, 5000, 7500, 10000], "format": "d", "title": "Overall survival (days)"}},
    "y": {"field": "s", "type": "quantitative", "scale": {"domain": [-0.047, 1.048], "nice": false, "zero": false}, "axis": {"values": [0, 0.25, 0.5, 0.75, 1], "format": ".2f", "title": "Survival probability"}},
    "color": {"field": "g", "type": "nominal", "scale": {"domain": ["lowExp", "highExp"], "range": ["#2236FF", "#FF2B1F"]}, "legend": {"title": "group", "orient": "none", "legendX": 229, "legendY": 10, "labelExpr": "datum.label === 'lowExp' ? 'lowExp (N=89)' : 'highExp\u00a0 (N=89)'"}}}},
  {"data": {"name": "km"}, "transform": [{"filter": "datum.p === 6 && datum.k === 'c'"}], "mark": {"type": "point", "shape": "M-1,0H1M0,-1V1", "filled": false, "size": 40, "strokeWidth": 1.2, "opacity": 1},
   "encoding": {"x": {"field": "t", "type": "quantitative"}, "y": {"field": "s", "type": "quantitative"}, "color": {"field": "g", "type": "nominal"}}},
  {"data": {"name": "notes"}, "transform": [{"filter": "datum.p === 6"}], "mark": {"type": "text", "align": "left", "baseline": "middle", "fontSize": 12.5},
   "encoding": {"x": {"datum": 5390, "type": "quantitative"}, "y": {"datum": 0.827, "type": "quantitative"}, "text": {"field": "hr", "type": "nominal"}}},
  {"data": {"name": "notes"}, "transform": [{"filter": "datum.p === 6"}], "mark": {"type": "text", "align": "left", "baseline": "middle", "fontSize": 12.5},
   "encoding": {"x": {"datum": 5510, "type": "quantitative"}, "y": {"datum": 0.773, "type": "quantitative"}, "text": {"field": "lr", "type": "nominal"}}},
  {"data": {"name": "notes"}, "transform": [{"filter": "datum.p === 6"}], "mark": {"type": "text", "align": "left", "baseline": "alphabetic", "fontSize": 34},
   "encoding": {"x": {"datum": 150, "type": "quantitative"}, "y": {"datum": 0.006, "type": "quantitative"}, "text": {"field": "pv", "type": "nominal"}}}
 ]}
]
}
